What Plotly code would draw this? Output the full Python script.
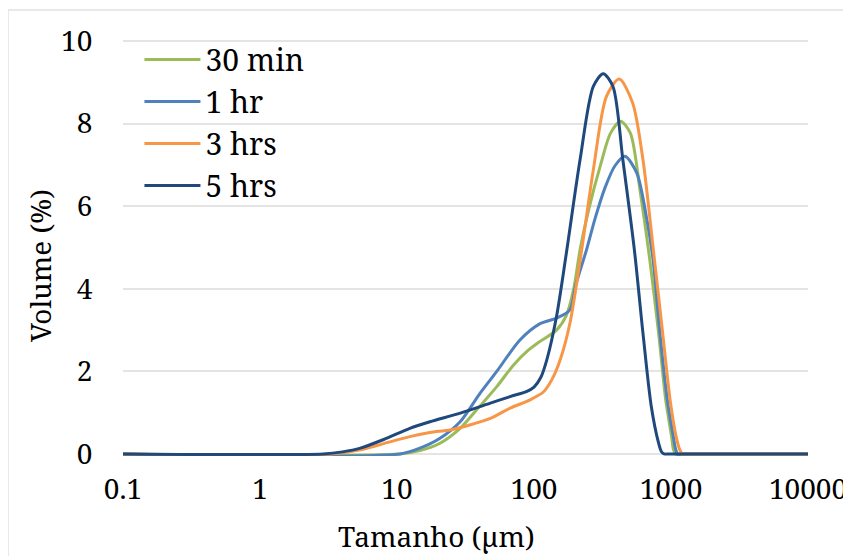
import plotly.graph_objects as go

# ---- data ----
series_names = ["30 min", "1 hr", "3 hrs", "5 hrs"]
series_colors = ["#9BBB59", "#4F81BD", "#F79646", "#1F497D"]

size_30min = [0.1, 10.5, 14.7, 20.6, 28.9, 38.2, 53.5, 70.7, 90, 110, 146, 172, 195, 217, 250, 306, 362, 428, 505, 598, 700, 812, 915, 1010, 1040, 1080, 1200, 10000]
vol_30min = [0, 0, 0.08, 0.26, 0.62, 1.07, 1.63, 2.15, 2.5, 2.72, 3.0, 3.35, 4.0, 4.95, 5.9, 7.0, 7.77, 8.06, 7.77, 6.32, 4.7, 2.93, 1.31, 0.42, 0.12, 0, 0, 0]

size_1hr = [0.1, 10.5, 14.7, 20.6, 28.9, 40, 53.5, 79, 110, 146, 183, 202, 242, 279, 330, 390, 461, 563, 667, 740, 830, 940, 1040, 1080, 1120, 1250, 10000]
vol_1hr = [0, 0, 0.14, 0.38, 0.78, 1.45, 2.0, 2.76, 3.15, 3.29, 3.49, 4.1, 4.95, 5.7, 6.45, 6.98, 7.21, 6.8, 5.67, 4.7, 2.93, 1.31, 0.42, 0.12, 0, 0, 0]

size_3hrs = [0.1, 3.3, 5.4, 8, 12.4, 17.4, 24.4, 34, 48, 67, 93.6, 117, 135, 156, 183, 223, 271, 338, 419, 525, 624, 740, 869, 985, 1090, 1160, 1216, 1350, 10000]
vol_3hrs = [0, 0, 0.1, 0.25, 0.42, 0.52, 0.58, 0.7, 0.86, 1.11, 1.31, 1.5, 1.8, 2.3, 3.17, 4.95, 6.88, 8.66, 9.08, 8.5, 7.13, 5.0, 2.93, 1.31, 0.42, 0.1, 0, 0, 0]

size_5hrs = [0.1, 2.9, 4, 5.4, 8, 12.4, 17.4, 29, 48, 67, 88, 100, 112, 124, 146, 172, 217, 271, 320, 377, 445, 540, 624, 718, 812, 850, 890, 980, 10000]
vol_5hrs = [0, 0, 0.05, 0.14, 0.35, 0.62, 0.78, 0.99, 1.23, 1.39, 1.51, 1.62, 1.85, 2.28, 3.33, 4.85, 7.13, 8.9, 9.21, 8.9, 7.13, 4.95, 2.93, 1.15, 0.26, 0.06, 0, 0, 0]

x_tick_vals = [0.1, 1, 10, 100, 1000, 10000]
x_tick_text = ["0.1", "1", "10", "100", "1000", "10000"]
y_tick_vals = [0, 2, 4, 6, 8, 10]

x_title = "Tamanho (µm)"
y_title = "Volume (%)"

FONT = "Noto Serif"

sizes = [size_30min, size_1hr, size_3hrs, size_5hrs]
vols = [vol_30min, vol_1hr, vol_3hrs, vol_5hrs]

fig = go.Figure()
for name, color, xs, ys in zip(series_names, series_colors, sizes, vols):
    fig.add_trace(go.Scatter(
        x=xs, y=ys, mode="lines", name=name,
        line=dict(color=color, width=3, shape="spline", smoothing=0.8),
    ))

# The page has an 8px body margin, so the figure is offset by (8, 8):
# plot area (page px) x 123..808, y(10.05)..y(-0.05) = 39..456
fig.update_layout(
    width=851, height=556,
    margin=dict(l=115, r=51, t=31, b=108, autoexpand=False),
    paper_bgcolor="white", plot_bgcolor="white",
    font=dict(family=FONT, size=28, color="black"),
    showlegend=True,
    legend=dict(
        x=0.024, y=1.013, xanchor="left", yanchor="top",
        bgcolor="rgba(0,0,0,0)", borderwidth=0,
        font=dict(family=FONT, size=30, color="black"),
        itemwidth=56, tracegroupgap=0,
    ),
    xaxis=dict(
        type="log", range=[-1, 4],
        tickvals=x_tick_vals, ticktext=x_tick_text,
        showgrid=False, showline=False, zeroline=False,
        ticks="outside", ticklen=8, tickcolor="rgba(0,0,0,0)",
        tickfont=dict(family=FONT, size=28, color="black"),
    ),
    yaxis=dict(
        range=[-0.05, 10.05], tickvals=y_tick_vals,
        showgrid=True, gridcolor="#e4e4e4", gridwidth=1.5,
        showline=False, zeroline=False,
        ticks="outside", ticklen=24, tickcolor="rgba(0,0,0,0)",
        tickfont=dict(family=FONT, size=28, color="black"),
    ),
    annotations=[
        dict(text=x_title, xref="paper", yref="paper",
             x=(436 - 123) / 685, y=-(536 - 456) / 417,
             xanchor="center", yanchor="middle", showarrow=False,
             font=dict(family=FONT, size=28, color="black")),
        dict(text=y_title, xref="paper", yref="paper",
             x=(40 - 123) / 685, y=(456 - 266) / 417,
             xanchor="center", yanchor="middle", showarrow=False,
             textangle=-90,
             font=dict(family=FONT, size=28, color="black")),
    ],
    shapes=[
        dict(type="rect", xref="paper", yref="paper",
             x0=(8 - 123) / 685, x1=(870 - 123) / 685,
             y0=(456 - 580) / 417, y1=(456 - 10) / 417,
             line=dict(color="#e2e2e2", width=1.5), layer="below"),
    ],
)

fig.write_html("out.html")
